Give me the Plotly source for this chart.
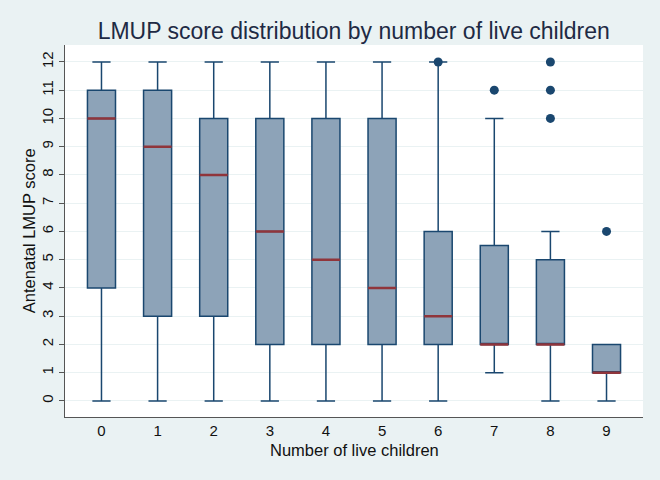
import plotly.graph_objects as go

children = [0, 1, 2, 3, 4, 5, 6, 7, 8, 9]
lower = [0, 0, 0, 0, 0, 0, 0, 1, 0, 0]
q1 = [4, 3, 3, 2, 2, 2, 2, 2, 2, 1]
median = [10, 9, 8, 6, 5, 4, 3, 2, 2, 1]
q3 = [11, 11, 10, 10, 10, 10, 6, 5.5, 5, 2]
upper = [12, 12, 12, 12, 12, 12, 12, 10, 6, 2]
out_x = [6, 7, 8, 8, 8, 9]
out_y = [12, 11, 10, 11, 12, 6]
y_ticks = list(range(0, 13))

navy = "#1A476F"
fill = "#8DA3B8"
maroon = "#90353B"
bgc = "#EAF2F3"

fig = go.Figure()
fig.add_trace(go.Box(
    x=children, q1=q1, median=median, q3=q3,
    lowerfence=lower, upperfence=upper,
    width=0.5, whiskerwidth=0.65,
    fillcolor=fill, line=dict(color=navy, width=1.5),
    boxpoints=False, showlegend=False, hoverinfo="skip",
))
fig.add_trace(go.Box(
    x=children, q1=median, median=median, q3=median,
    lowerfence=median, upperfence=median,
    width=0.5, whiskerwidth=0,
    fillcolor=maroon, line=dict(color=maroon, width=2.5),
    boxpoints=False, showlegend=False, hoverinfo="skip",
))
fig.add_trace(go.Scatter(
    x=out_x, y=out_y, mode="markers",
    marker=dict(color=navy, size=9),
    showlegend=False, hoverinfo="skip",
))

fig.update_layout(
    width=660, height=480,
    paper_bgcolor=bgc, plot_bgcolor="white",
    margin=dict(l=65, r=17, t=45, b=63),
    boxmode="overlay",
    font=dict(family="Liberation Sans, Arial, sans-serif", color="#111"),
    title=dict(text="LMUP score distribution by number of live children",
               x=0.536, xanchor="center", y=0.935, yanchor="middle",
               font=dict(size=23, color="#1E2A44")),
    annotations=[
        dict(text="Number of live children", xref="paper", yref="paper",
             x=0.5, y=-0.089, xanchor="center", yanchor="middle",
             showarrow=False, font=dict(size=16.5)),
        dict(text="Antenatal LMUP score", xref="paper", yref="paper",
             x=-0.062, y=0.5, xanchor="center", yanchor="middle", textangle=-90,
             showarrow=False, font=dict(size=16.5)),
    ],
)
fig.update_xaxes(
    range=[-0.65, 9.65], tickmode="array", tickvals=children,
    ticktext=[str(c) for c in children], automargin=False,
    showgrid=False, zeroline=False, showline=True, linecolor="#555", linewidth=1,
    ticks="", tickfont=dict(size=15),
)
fig.update_yaxes(
    range=[-0.57, 12.6], tickmode="array", tickvals=y_ticks,
    ticktext=[str(v) for v in y_ticks], tickangle=-90, automargin=False,
    showgrid=True, gridcolor=bgc, gridwidth=1, zeroline=False,
    showline=True, linecolor="#555", linewidth=1,
    ticks="outside", ticklen=5, tickcolor="#555", tickfont=dict(size=15),
)

fig.write_html("out.html", config={"displayModeBar": False},
               post_script="document.body.style.margin='0';document.body.style.background='#EAF2F3';")
